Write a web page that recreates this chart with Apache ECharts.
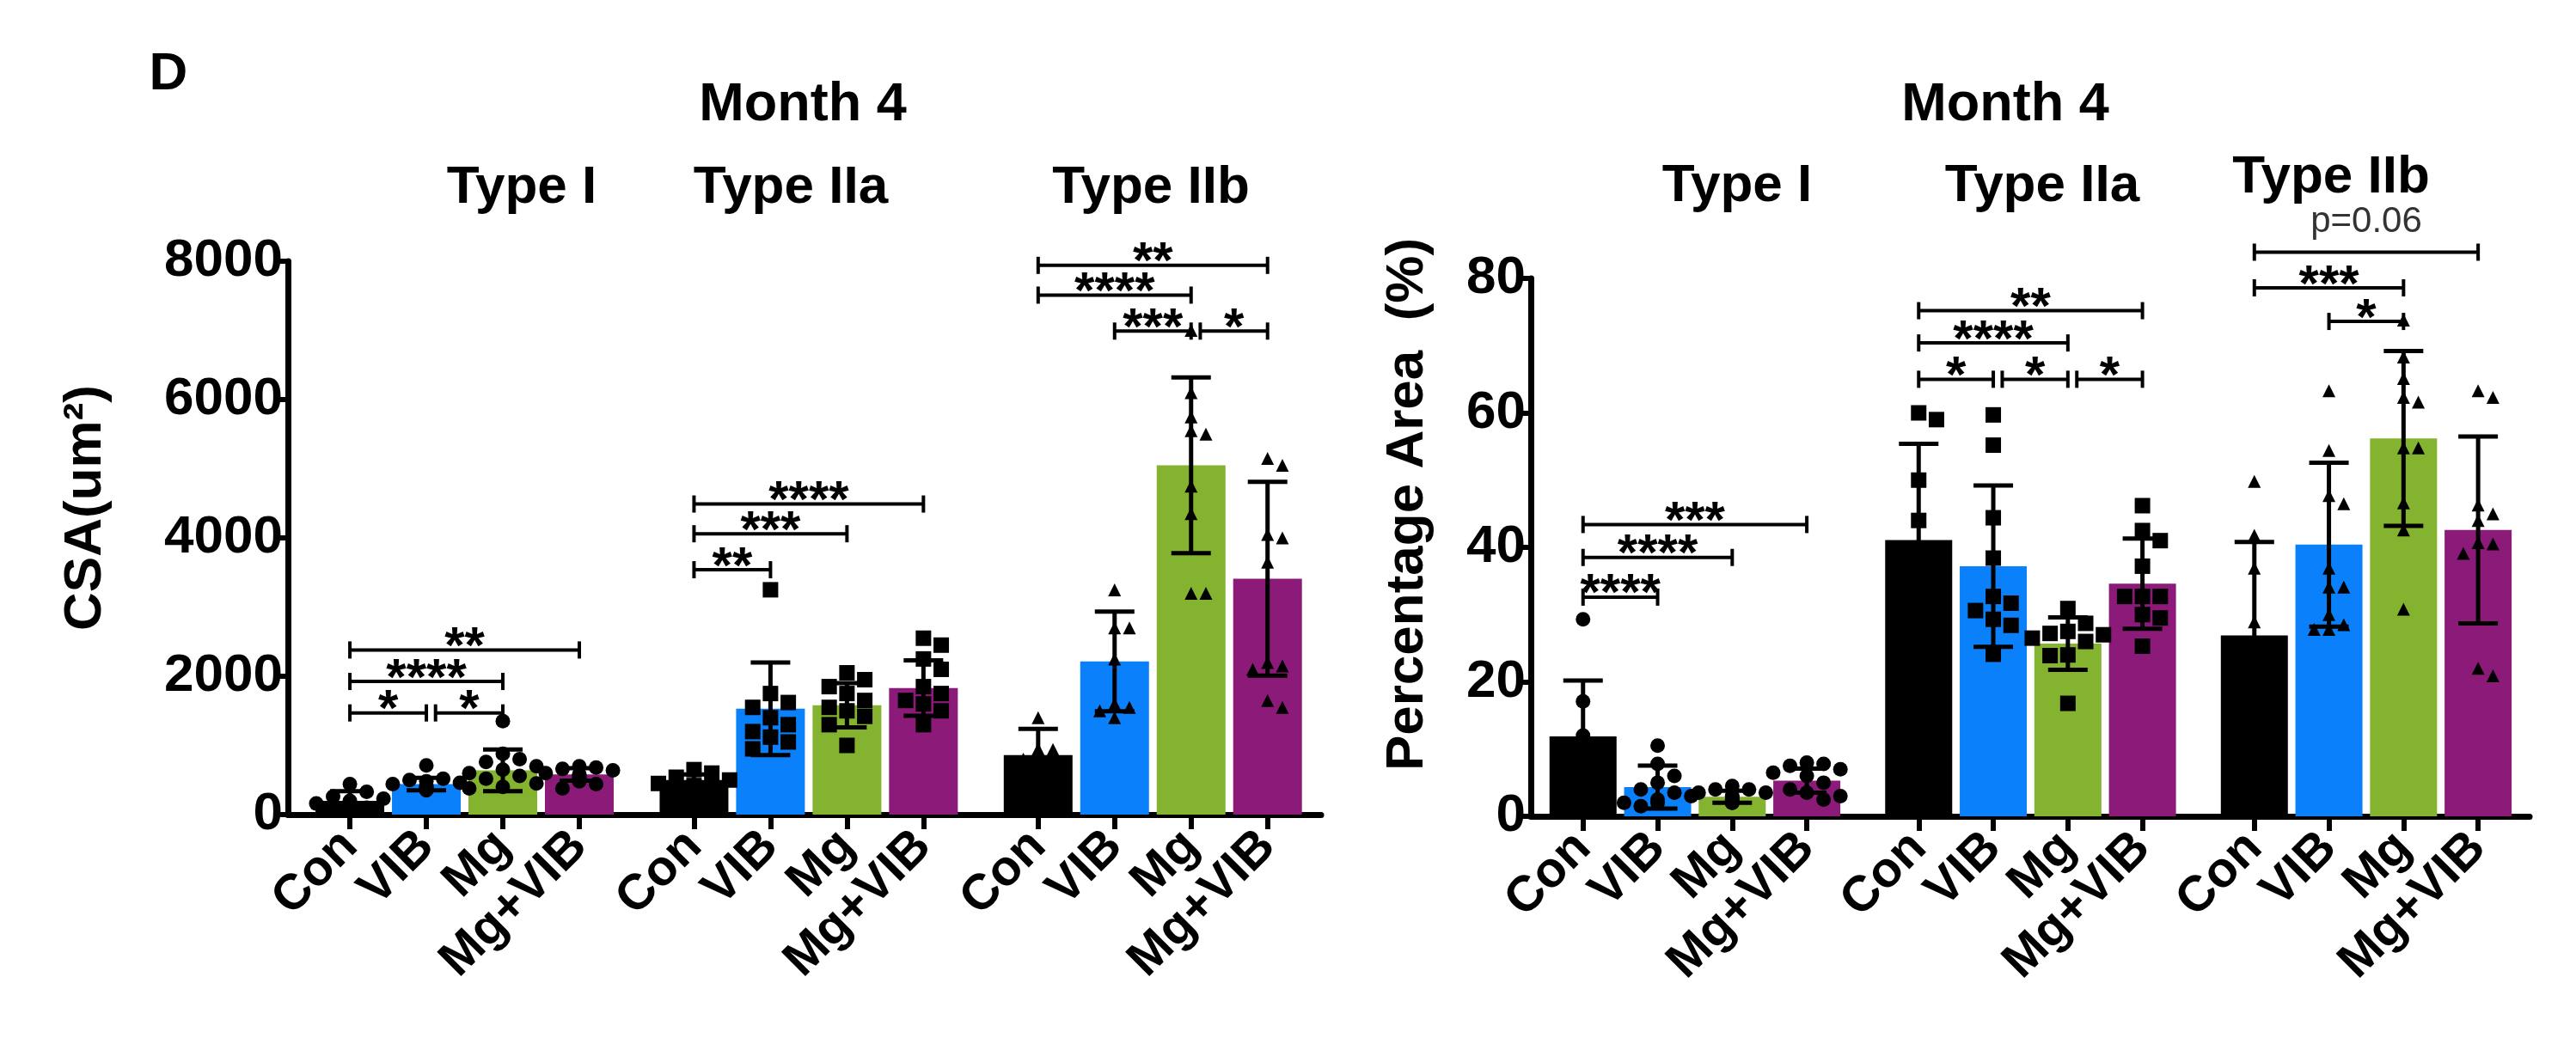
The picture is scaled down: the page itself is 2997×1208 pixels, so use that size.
<!DOCTYPE html>
<html>
<head>
<meta charset="utf-8">
<script src="https://cdn.jsdelivr.net/npm/echarts@6/dist/echarts.min.js"></script>
<style>
  html, body { margin: 0; padding: 0; background: #fff; }
  #chart { width: 2997px; height: 1208px; }
</style>
</head>
<body>
<div id="chart"></div>
<script>
/* global echarts */
const conditions = ['Con', 'VIB', 'Mg', 'Mg+VIB'];
const fiberTypes = ['Type I', 'Type IIa', 'Type IIb'];
const barColors = ['#000000', '#0a80fa', '#84b32f', '#8b1a78'];
const typeSymbols = ['circle', 'rect', 'triangle'];
const groupGap = 0.5; // extra slot between fibre types

// CSA (um2): mean and SD per fibre type, in the order Con, VIB, Mg, Mg+VIB
const csaTicks = [0, 2000, 4000, 6000, 8000];
const csaMean = [[200, 440, 640, 580], [500, 1530, 1580, 1830], [860, 2215, 5050, 3410]];
const csaSd = [[140, 90, 300, 90], [80, 670, 320, 400], [380, 720, 1270, 1400]];
const csaPoints = [
    [
        [440, 330, 260, 230, 200, 160, 120, 100, 70],
        [710, 520, 500, 480, 460, 440, 420, 400, 390, 370, 350],
        [1350, 880, 800, 760, 700, 650, 600, 560, 520, 450, 400, 380],
        [700, 680, 660, 640, 600, 580, 560, 540, 510, 480, 440, 380]
    ],
    [
        [650, 600, 540, 500, 450, 420, 380],
        [3250, 1750, 1620, 1550, 1400, 1300, 1200, 1120, 1050, 950],
        [2050, 1950, 1850, 1750, 1650, 1550, 1500, 1420, 1300, 1000],
        [2550, 2450, 2250, 2100, 1850, 1750, 1650, 1600, 1500, 1300]
    ],
    [
        [1400, 950, 940, 800, 650, 550, 500],
        [3250, 2700, 2700, 2250, 1600, 1550, 1500, 1400],
        [7000, 6100, 5750, 5550, 5500, 4750, 4350, 3200, 3200],
        [5150, 5050, 4050, 4000, 3650, 2200, 2150, 2100, 1650, 1550]
    ]
];
// significance: [fibre type, from, to, height, label]
const csaSig = [
    [0, 0, 1, 1470, '*'], [0, 1, 2, 1470, '*'], [0, 0, 2, 1925, '****'], [0, 0, 3, 2380, '**'],
    [1, 0, 1, 3540, '**'], [1, 0, 2, 4060, '***'], [1, 0, 3, 4490, '****'],
    [2, 1, 2, 6990, '***'], [2, 2, 3, 6990, '*'], [2, 0, 2, 7510, '****'], [2, 0, 3, 7940, '**']
];

// Percentage area (%)
const areaTicks = [0, 20, 40, 60, 80];
const areaMean = [[11.9, 4.35, 2.9, 5.3], [41.1, 37.2, 25.7, 34.6], [26.9, 40.4, 56.2, 42.6]];
const areaSd = [[8.3, 3.2, 0.9, 1.8], [14.3, 12.0, 3.9, 6.7], [13.9, 12.2, 13.0, 13.9]];
const areaPoints = [
    [
        [29.3, 17.1, 12, 8, 5, 3, 2],
        [10.5, 7.8, 6, 5, 4, 3.5, 3, 2.5, 2, 2, 1.5],
        [4.5, 4, 4, 3.5, 3.5, 3, 3, 2.5, 2.5, 2, 2],
        [8, 7.8, 7.5, 7, 6.5, 6, 5, 4, 3.5, 3, 2.5]
    ],
    [
        [60, 59, 50, 44, 34, 25, 16],
        [59.7, 55.2, 44.4, 38.4, 32.7, 31.7, 30.6, 29.3, 28.4, 24.1],
        [30.9, 28.7, 27.5, 27.2, 27, 26.5, 26, 24, 23.9, 16.8],
        [46.2, 42.5, 41, 37.2, 32.7, 32.7, 32.7, 30, 29.5, 25.3]
    ],
    [
        [49.8, 41.8, 36.9, 28.9, 18, 12, 8],
        [63.3, 54.4, 47.7, 46.5, 36.9, 34.1, 34.1, 30, 28.5, 27.8, 27.8],
        [73.8, 68.3, 65.1, 62.3, 61.6, 54.8, 54.8, 46.6, 42.6, 30.8],
        [63.3, 62.3, 46.3, 45, 44, 40.7, 40.5, 39.1, 22, 20.9]
    ]
];
const areaSig = [
    [0, 0, 1, 32.6, '****'], [0, 0, 2, 38.5, '****'], [0, 0, 3, 43.4, '***'],
    [1, 0, 1, 65, '*'], [1, 1, 2, 65, '*'], [1, 2, 3, 65, '*'], [1, 0, 2, 70.4, '****'], [1, 0, 3, 75.2, '**'],
    [2, 1, 2, 73.6, '*'], [2, 0, 2, 78.6, '***'], [2, 0, 3, 83.9, 'p=0.06']
];

const FONT = '"Liberation Sans", Arial, Helvetica, sans-serif';
const W = 2997;
const H = 1208;
const STAR_SIZE = 60;

function positionOf (g, i) {
    return g * (conditions.length + groupGap) + i;
}

const positions = [];
fiberTypes.forEach(function (t, g) {
    conditions.forEach(function (c, i) { positions.push(positionOf(g, i)); });
});

function conditionAt (v) {
    const k = positions.findIndex(function (p) { return Math.abs(p - v) < 1e-6; });
    return k < 0 ? '' : conditions[k % conditions.length];
}

// spread overlapping dots sideways, like a prism scatter
function swarm (values, pxY, pxX, size) {
    const order = values.map(function (v, k) { return k; }).sort(function (a, b) { return values[b] - values[a]; });
    const placed = [];
    const offsets = values.map(function () { return 0; });
    const step = size * 1.15;
    order.forEach(function (k) {
        const y = values[k] * pxY;
        for (let n = 0; n < 5; n++) {
            const m = n === 0 ? 0 : (n % 2 ? Math.ceil(n / 2) : -n / 2);
            const x = m * step;
            const hit = placed.some(function (p) {
                return Math.abs(p.x - x) < size * 1.02 && Math.abs(p.y - y) < size * 1.02;
            });
            if (!hit) {
                placed.push({ x: x, y: y });
                offsets[k] = x / pxX;
                return;
            }
        }
        placed.push({ x: 0, y: y });
    });
    return offsets;
}

function buildPanel (idx, cfg) {
    const plotW = W - cfg.grid.left - cfg.grid.right;
    const plotH = H - cfg.grid.top - cfg.grid.bottom;
    const pxX = plotW / (cfg.xMax - cfg.xMin);
    const pxY = plotH / cfg.ticks[cfg.ticks.length - 1];

    const barData = [];
    const errData = [];
    const dotData = [];
    fiberTypes.forEach(function (t, g) {
        conditions.forEach(function (c, i) {
            const x = positionOf(g, i);
            barData.push({ value: [x, cfg.mean[g][i]], itemStyle: { color: barColors[i] } });
            errData.push([x, cfg.mean[g][i], cfg.sd[g][i]]);
            const vals = cfg.points[g][i];
            const offs = swarm(vals, pxY, pxX, cfg.dotSize[g]);
            vals.forEach(function (v, k) {
                dotData.push({ value: [x + offs[k], v], symbol: typeSymbols[g], symbolSize: cfg.dotSize[g] });
            });
        });
    });

    const sigData = cfg.sig.map(function (s) {
        let from = positionOf(s[0], s[1]);
        const shared = cfg.sig.some(function (o) { return o !== s && o[0] === s[0] && o[3] === s[3] && o[2] === s[1]; });
        if (shared) from += 0.12;
        return [from, positionOf(s[0], s[2]), s[3]];
    });

    const grid = { left: cfg.grid.left, right: cfg.grid.right, top: cfg.grid.top, bottom: cfg.grid.bottom, containLabel: false };
    const xAxis = {
        type: 'value',
        gridIndex: idx,
        min: cfg.xMin,
        max: cfg.xMax,
        splitLine: { show: false },
        axisLine: { show: true, onZero: false, lineStyle: { color: '#000', width: 7 } },
        axisTick: { show: true, customValues: positions, length: 17, lineStyle: { color: '#000', width: 6 } },
        axisLabel: {
            customValues: positions,
            rotate: 45,
            margin: 28,
            color: '#000',
            fontFamily: FONT,
            fontWeight: 'bold',
            fontSize: 58,
            formatter: conditionAt
        }
    };
    const yAxis = {
        type: 'value',
        gridIndex: idx,
        min: 0,
        max: cfg.ticks[cfg.ticks.length - 1],
        interval: cfg.ticks[1] - cfg.ticks[0],
        splitLine: { show: false },
        axisLine: { show: true, onZero: false, lineStyle: { color: '#000', width: 7 } },
        axisTick: { show: true, length: 13, lineStyle: { color: '#000', width: 6 } },
        axisLabel: {
            color: '#000',
            fontFamily: FONT,
            fontWeight: 'bold',
            fontSize: 62,
            margin: 6,
            formatter: function (v) { return String(v); }
        }
    };
    const series = [
        {
            type: 'bar',
            xAxisIndex: idx,
            yAxisIndex: idx,
            barWidth: cfg.barWidth,
            data: barData,
            silent: true,
            z: 1
        },
        {
            type: 'custom',
            xAxisIndex: idx,
            yAxisIndex: idx,
            data: errData,
            encode: { x: 0, y: 1 },
            silent: true,
            z: 3,
            renderItem: function (params, api) {
                const x = api.value(0);
                const m = api.value(1);
                const s = api.value(2);
                const top = api.coord([x, m + s]);
                const bot = api.coord([x, Math.max(0, m - s)]);
                const cap = 23;
                const st = { stroke: '#000', lineWidth: 5 };
                return {
                    type: 'group',
                    children: [
                        { type: 'line', shape: { x1: top[0], y1: top[1], x2: bot[0], y2: bot[1] }, style: st },
                        { type: 'line', shape: { x1: top[0] - cap, y1: top[1], x2: top[0] + cap, y2: top[1] }, style: st },
                        { type: 'line', shape: { x1: bot[0] - cap, y1: bot[1], x2: bot[0] + cap, y2: bot[1] }, style: st }
                    ]
                };
            }
        },
        {
            type: 'scatter',
            xAxisIndex: idx,
            yAxisIndex: idx,
            data: dotData,
            itemStyle: { color: '#000', opacity: 1 },
            silent: true,
            z: 4
        },
        {
            type: 'custom',
            xAxisIndex: idx,
            yAxisIndex: idx,
            data: sigData,
            encode: { x: 0, y: 2 },
            clip: false,
            silent: true,
            z: 5,
            renderItem: function (params, api) {
                const label = cfg.sig[params.dataIndex][4];
                const a = api.coord([api.value(0), api.value(2)]);
                const b = api.coord([api.value(1), api.value(2)]);
                const st = { stroke: '#000', lineWidth: 4 };
                const isP = label.charAt(0) === 'p';
                // asterisk glyphs sit high in the em box, so pull them down onto the line
                const ty = isP ? a[1] - 14 : a[1] + STAR_SIZE * 0.6 - 8;
                return {
                    type: 'group',
                    children: [
                        { type: 'line', shape: { x1: a[0], y1: a[1], x2: b[0], y2: b[1] }, style: st },
                        { type: 'line', shape: { x1: a[0], y1: a[1] - 10, x2: a[0], y2: a[1] + 10 }, style: st },
                        { type: 'line', shape: { x1: b[0], y1: b[1] - 10, x2: b[0], y2: b[1] + 10 }, style: st },
                        {
                            type: 'text',
                            style: {
                                text: label,
                                x: (a[0] + b[0]) / 2,
                                y: ty,
                                align: 'center',
                                verticalAlign: 'bottom',
                                fill: isP ? '#333' : '#000',
                                fontFamily: FONT,
                                fontWeight: isP ? 'normal' : 'bold',
                                fontSize: isP ? 42 : STAR_SIZE
                            }
                        }
                    ]
                };
            }
        }
    ];
    return { grid: grid, xAxis: xAxis, yAxis: yAxis, series: series };
}

const left = buildPanel(0, {
    grid: { left: 335, right: 1460, top: 304, bottom: 260 },
    xMin: -0.81,
    xMax: 12.7,
    barWidth: 80,
    ticks: csaTicks,
    mean: csaMean,
    sd: csaSd,
    points: csaPoints,
    sig: csaSig,
    dotSize: [17, 18, 15]
});
const right = buildPanel(1, {
    grid: { left: 1781, right: 54, top: 324, bottom: 258 },
    xMin: -0.7,
    xMax: 12.69,
    barWidth: 78,
    ticks: areaTicks,
    mean: areaMean,
    sd: areaSd,
    points: areaPoints,
    sig: areaSig,
    dotSize: [17, 18, 15]
});

function label (text, x, y, size, extra) {
    return Object.assign({
        type: 'text',
        x: x,
        y: y,
        silent: true,
        style: {
            text: text,
            fill: '#000',
            fontFamily: FONT,
            fontWeight: 'bold',
            fontSize: size,
            align: 'center',
            verticalAlign: 'middle'
        }
    }, extra || {});
}

const titles = [
    label('D', 196, 87, 62),
    label('Month 4', 934, 123, 63),
    label('Month 4', 2333, 123, 63),
    label('Type I', 607, 219, 62),
    label('Type IIa', 920, 219, 62),
    label('Type IIb', 1339, 219, 62),
    label('Type I', 2021, 217, 62),
    label('Type IIa', 2376, 217, 62),
    label('Type IIb', 2712, 207, 62),
    label('CSA(um²)', 100, 591, 62, { rotation: Math.PI / 2 }),
    label('Percentage Area  (%)', 1638, 587, 62, { rotation: Math.PI / 2 })
];

const chart = echarts.init(document.getElementById('chart'), null, { renderer: 'canvas' });
chart.setOption({
    backgroundColor: '#ffffff',
    animation: false,
    grid: [left.grid, right.grid],
    xAxis: [left.xAxis, right.xAxis],
    yAxis: [left.yAxis, right.yAxis],
    series: left.series.concat(right.series),
    graphic: titles
});
window.onresize = function () {
    chart.resize();
};
</script>
</body>
</html>
